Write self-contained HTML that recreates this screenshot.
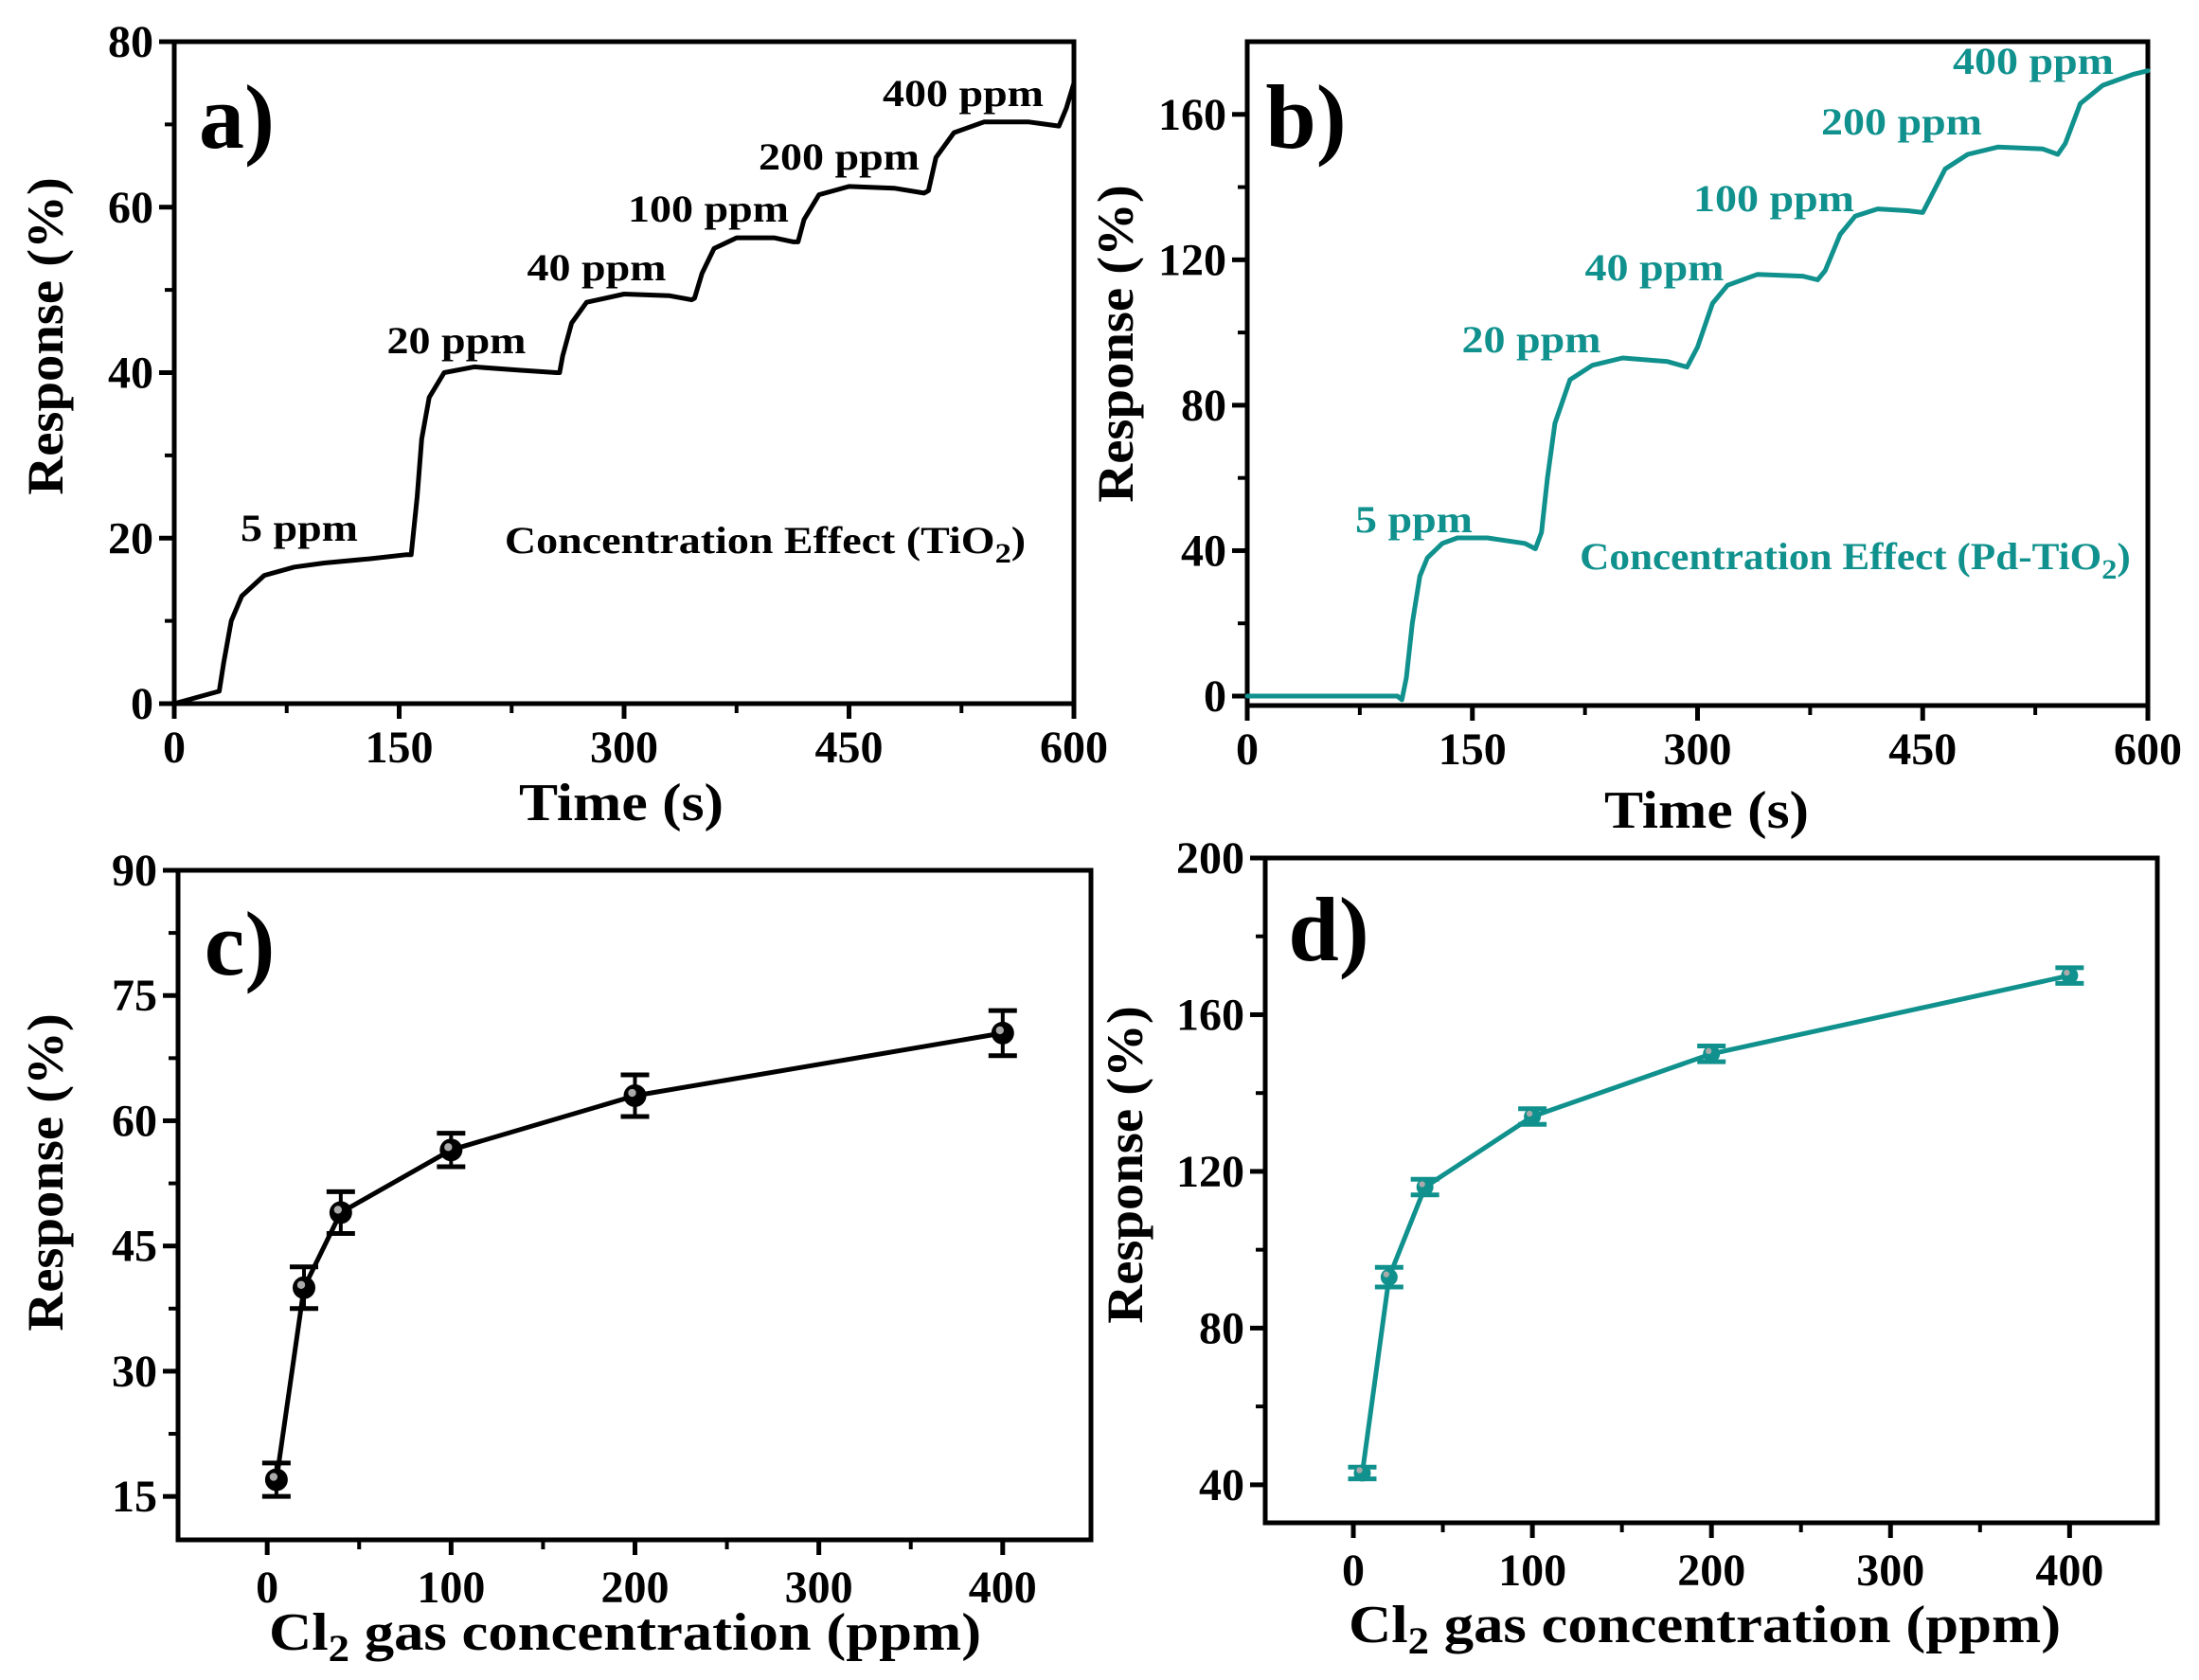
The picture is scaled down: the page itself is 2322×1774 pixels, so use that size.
<!DOCTYPE html>
<html><head><meta charset="utf-8">
<style>
html,body{margin:0;padding:0;background:#fff;}
svg{display:block;font-family:"Liberation Serif",serif;font-weight:bold;}
</style></head>
<body>
<svg id="fig" width="2322" height="1774" viewBox="0 0 2322 1774" xmlns="http://www.w3.org/2000/svg"></svg>
<script>
// ---- Panel a data (TiO2 transient) ----
const aTime = [0,30,33,38,45,60,80,100,130,155,158,162,165,170,180,200,230,255,257,259,265,275,300,330,345,347,352,360,375,400,413,416,420,430,450,480,500,503,508,520,540,570,590,595,600];
const aResp = [0,1.5,5,10,13,15.5,16.5,17,17.5,18,18,25,32,37,40,40.7,40.3,40,40,42,46,48.5,49.5,49.3,48.8,49,52,55,56.3,56.3,55.8,55.8,58.5,61.5,62.5,62.3,61.7,62,66,69,70.3,70.3,69.8,72,75];
// ---- Panel b data (Pd-TiO2 transient) ----
const bTime = [0,100,103,106,110,115,120,130,140,160,185,192,196,200,205,215,230,250,280,293,300,310,320,340,370,380,385,395,405,420,440,450,455,465,480,500,530,540,545,555,570,590,600];
const bResp = [0,0,-1,5,20,33,38,42,43.5,43.5,42,40.5,45,60,75,87,91,93,92,90.5,96,108,113,116,115.5,114.5,117,127,132,134,133.5,133,137,145,149,151,150.5,149,152,163,168,171,172];
// ---- Panel c/d data ----
const concentrations = [5,20,40,100,200,400];
const cResp = [17,40,49,56.5,63,70.5];
const cErr = [2,2.5,2.5,2,2.5,2.7];
const dResp = [43,93,116,134,150,170];
const dErr = [1.5,2.5,2,2,2,2];
const aYTicks = [0,20,40,60,80];
const bYTicks = [0,40,80,120,160];
const timeTicks = [0,150,300,450,600];
const cYTicks = [15,30,45,60,75,90];
const dYTicks = [40,80,120,160,200];
const concTicks = [0,100,200,300,400];

const NS="http://www.w3.org/2000/svg";
const svg=document.getElementById('fig');
const TEAL="#10918d";
function el(tag,attrs,parent){const e=document.createElementNS(NS,tag);for(const k in attrs)e.setAttribute(k,attrs[k]);(parent||svg).appendChild(e);return e;}
function txt(s,x,y,size,anchor,fill,parent){const t=el('text',{x:x,y:y,'font-size':size,'text-anchor':anchor||'middle',fill:fill||'#000'},parent);t.textContent=s;return t;}
function stext(html,x,y,size,sx,fill,name,rot){
  const t=el('text',{x:0,y:0,'font-size':size,'text-anchor':'middle',fill:fill||'#000',transform:`translate(${x},${y})`+(rot?' rotate(-90)':'')+` scale(${sx},1)`});
  t.innerHTML=html;
  
  
  return t;
}

function makePanel(p){
  const g=el('g',{});
  
  
  const sx=v=>p.L+(v-p.x0)/(p.x1-p.x0)*(p.R-p.L);
  const sy=v=>p.B-(v-p.y0)/(p.y1-p.y0)*(p.B-p.T);
  const fr=el('rect',{x:p.L,y:p.T,width:p.R-p.L,height:p.B-p.T,fill:'none',stroke:'#000','stroke-width':5},g);
  
  
  p.yt.forEach((v,i)=>{
    const y=sy(v);
    el('line',{x1:p.L-16,x2:p.L,y1:y,y2:y,stroke:'#000','stroke-width':5},g);
    const t=txt(String(v),p.L-22,y+16,48,'end','#000',g);
    
    
    if(i<p.yt.length-1){const m=sy((v+p.yt[i+1])/2);el('line',{x1:p.L-10,x2:p.L,y1:m,y2:m,stroke:'#000','stroke-width':4},g);}
  });
  p.xt.forEach((v,i)=>{
    const x=sx(v);
    el('line',{x1:x,x2:x,y1:p.B,y2:p.B+16,stroke:'#000','stroke-width':5},g);
    const t=txt(String(v),x,p.B+p.xlOff,48,'middle','#000',g);
    
    
    if(i<p.xt.length-1){const m=sx((v+p.xt[i+1])/2);el('line',{x1:m,x2:m,y1:p.B,y2:p.B+10,stroke:'#000','stroke-width':4},g);}
  });
  return {g,sx,sy};
}

function curve(P,xs,ys,color,name){
  let d='';xs.forEach((x,i)=>{d+=(i?'L':'M')+P.sx(x).toFixed(1)+','+P.sy(ys[i]).toFixed(1);});
  const pth=el('path',{d:d,fill:'none',stroke:color,'stroke-width':5,'stroke-linejoin':'round','stroke-linecap':'round'},P.g);
  
  
}

function label(s,x,y,size,fill,name){const t=txt(s,x,y,size,'middle',fill);return t;}

// ===== Panel a =====
const A=makePanel({name:'panel-a',L:184,R:1134,T:44,B:743,x0:0,x1:600,y0:0,y1:80,yt:aYTicks,xt:timeTicks,xlOff:62});
curve(A,aTime,aResp,'#000','tio2-response-curve');
stext('Response (%)',66,355,54,1.05,'#000','y-axis-title',true);
stext('Time (s)',656,866,56,1.1,'#000','x-axis-title');
label('a)',250,156,96,'#000','panel-label-a');
[['5 ppm',316,571],['20 ppm',482,373],['40 ppm',630,296],['100 ppm',748,234],['200 ppm',886,179],['400 ppm',1017,112]].forEach(a=>stext(a[0],a[1],a[2],40,1.15,'#000','concentration-annotation'));
stext('Concentration Effect (TiO<tspan font-size="30" dy="10">2</tspan><tspan dy="-10">)</tspan>',808,584,40,1.15,'#000','legend-note-tio2');

// ===== Panel b =====
const B=makePanel({name:'panel-b',L:1317,R:2268,T:44,B:745,x0:0,x1:600,y0:-2.6,y1:180,yt:bYTicks,xt:timeTicks,xlOff:62});
curve(B,bTime,bResp,TEAL,'pd-tio2-response-curve');
stext('Response (%)',1196,363,54,1.05,'#000','y-axis-title',true);
stext('Time (s)',1802,874,56,1.1,'#000','x-axis-title');
label('b)',1379,156,96,'#000','panel-label-b');
[['5 ppm',1493,562],['20 ppm',1617,372],['40 ppm',1747,296],['100 ppm',1873,223],['200 ppm',2008,142],['400 ppm',2147,78]].forEach(a=>stext(a[0],a[1],a[2],40,1.15,TEAL,'concentration-annotation'));
stext('Concentration Effect (Pd-TiO<tspan font-size="30" dy="10">2</tspan><tspan dy="-10">)</tspan>',1959,601,40,1.08,TEAL,'legend-note-pd-tio2');

// ===== scatter w/ errors =====
function errSeries(P,xs,ys,es,color,r,name){
  curve(P,xs,ys,color,name+'-line');
  xs.forEach((x,i)=>{
    const cx=P.sx(x),cy=P.sy(ys[i]),yt=P.sy(ys[i]+es[i]),yb=P.sy(ys[i]-es[i]);
    const g=el('g',{},P.g);
    
    
    el('line',{x1:cx,x2:cx,y1:yt,y2:yb,stroke:color,'stroke-width':4},g);
    el('line',{x1:cx-15,x2:cx+15,y1:yt,y2:yt,stroke:color,'stroke-width':5},g);
    el('line',{x1:cx-15,x2:cx+15,y1:yb,y2:yb,stroke:color,'stroke-width':5},g);
    el('circle',{cx:cx,cy:cy,r:r,fill:color},g);
    el('circle',{cx:cx-3,cy:cy-3,r:r*0.35,fill:'#aaa'},g);
  });
}

// ===== Panel c =====
const C=makePanel({name:'panel-c',L:188,R:1152,T:919,B:1626,x0:-48.5,x1:448,y0:9.8,y1:90,yt:cYTicks,xt:concTicks,xlOff:66});
errSeries(C,concentrations,cResp,cErr,'#000',12,'tio2-series');
stext('Response (%)',66,1238,54,1.05,'#000','y-axis-title',true);
stext('Cl<tspan font-size="40" dy="12">2</tspan><tspan dy="-12"> gas concentration (ppm)</tspan>',660,1742,56,1.12,'#000','x-axis-title');
label('c)',253,1029,96,'#000','panel-label-c');

// ===== Panel d =====
const D=makePanel({name:'panel-d',L:1336,R:2278,T:906,B:1608,x0:-49.2,x1:449,y0:30.3,y1:200,yt:dYTicks,xt:concTicks,xlOff:66});
errSeries(D,concentrations,dResp,dErr,TEAL,9,'pd-tio2-series');
stext('Response (%)',1206,1230,54,1.05,'#000','y-axis-title',true);
stext('Cl<tspan font-size="40" dy="12">2</tspan><tspan dy="-12"> gas concentration (ppm)</tspan>',1800,1734,56,1.12,'#000','x-axis-title');
label('d)',1403,1014,96,'#000','panel-label-d');
</script>
</body></html>
